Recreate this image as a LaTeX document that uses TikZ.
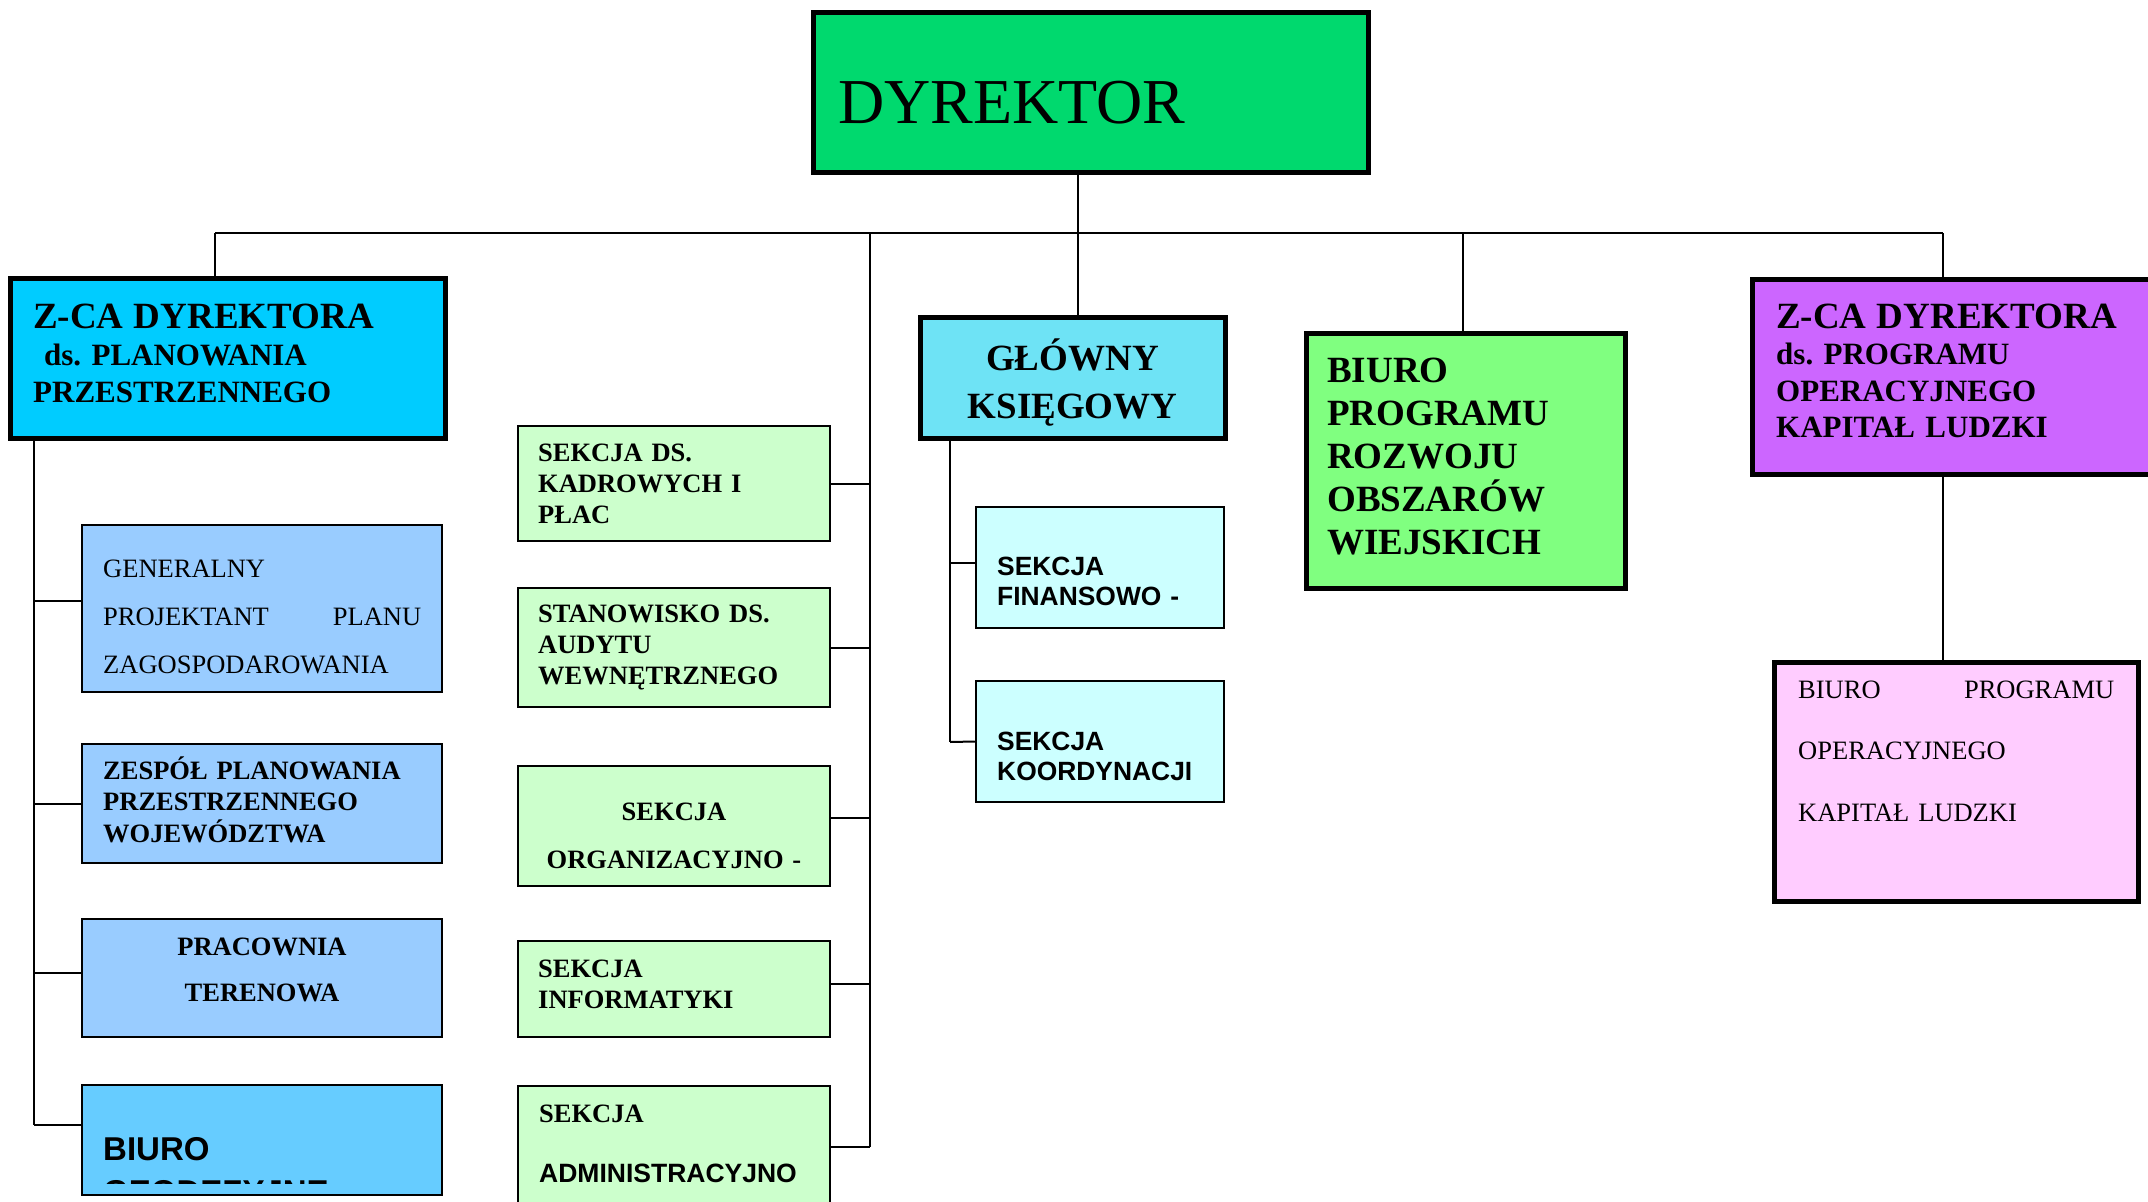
\documentclass[tikz,border=0pt]{standalone}
\usepackage{fontspec}
\setmainfont{Liberation Serif}
\newfontfamily\arialfont{Liberation Sans}
\usepackage{tikz}
\frenchspacing
\definecolor{dyrgreen}{RGB}{0,217,110}
\definecolor{zcablue}{RGB}{0,204,255}
\definecolor{planblue}{RGB}{153,204,255}
\definecolor{geoblue}{RGB}{102,204,255}
\definecolor{sekgreen}{RGB}{204,255,204}
\definecolor{ksiegcyan}{RGB}{110,227,245}
\definecolor{fincyan}{RGB}{204,255,255}
\definecolor{prowgreen}{RGB}{128,255,128}
\definecolor{zcaviolet}{RGB}{204,102,255}
\definecolor{kapitalpink}{RGB}{255,204,255}
\tikzstyle{thickbox}=[draw,line width=5pt,inner sep=0pt]
\tikzstyle{thinbox}=[draw,line width=2.5pt,inner sep=0pt]
\tikzstyle{txt}=[inner sep=0pt,align=left,anchor=base west]
\tikzstyle{link}=[line width=2pt]

\begin{document}
\begin{tikzpicture}[x=1pt,y=-1pt]
\useasboundingbox (0,0) rectangle (2148,1202);

% boxes
\node[thickbox, fill=dyrgreen, minimum width=555pt, minimum height=160pt] (dyr) at (1090.5,92) {};
\node[thickbox, fill=zcablue, minimum width=435pt, minimum height=160pt] (zcaL) at (227.5,358) {};
\node[thinbox, fill=planblue, minimum width=360pt, minimum height=167pt] (gen) at (262,608.5) {};
\node[thinbox, fill=planblue, minimum width=360pt, minimum height=119pt] (zesp) at (262,803.5) {};
\node[thinbox, fill=planblue, minimum width=360pt, minimum height=118pt] (prac) at (262,978) {};
\node[thinbox, fill=geoblue, minimum width=360pt, minimum height=110pt] (geo) at (262,1140) {};
\node[thinbox, fill=sekgreen, minimum width=312pt, minimum height=115pt] (kad) at (674,483.5) {};
\node[thinbox, fill=sekgreen, minimum width=312pt, minimum height=119pt] (aud) at (674,647.5) {};
\node[thinbox, fill=sekgreen, minimum width=312pt, minimum height=120pt] (org) at (674,826) {};
\node[thinbox, fill=sekgreen, minimum width=312pt, minimum height=96pt] (inf) at (674,989) {};
\node[thinbox, fill=sekgreen, minimum width=312pt, minimum height=122pt] (adm) at (674,1147) {};
\node[thickbox, fill=ksiegcyan, minimum width=305pt, minimum height=121pt] (glow) at (1072.5,377.5) {};
\node[thinbox, fill=fincyan, minimum width=248pt, minimum height=121pt] (fin) at (1100,567.5) {};
\node[thinbox, fill=fincyan, minimum width=248pt, minimum height=121pt] (koo) at (1100,741.5) {};
\node[thickbox, fill=prowgreen, minimum width=319pt, minimum height=255pt] (prow) at (1465.5,460.5) {};
\node[thickbox, fill=zcaviolet, minimum width=418pt, minimum height=195pt] (zcaR) at (1961,376.5) {};
\node[thickbox, fill=kapitalpink, minimum width=364pt, minimum height=239pt] (bpkl) at (1956,781.5) {};

% texts
\node[txt, font=\fontsize{64}{70}\selectfont] (dyrt) at (838,123) {DYREKTOR};
\node[txt, text width=405pt, font=\bfseries\fontsize{31}{37}\selectfont] (zcaLt) at (33,328)
  {{\fontsize{37}{37}\selectfont Z-CA DYREKTORA}\\\hspace*{11pt}ds. PLANOWANIA\\PRZESTRZENNEGO};
\node[txt, text width=318pt, font=\fontsize{26.5}{48}\selectfont] (gent) at (103,577)
  {GENERALNY\\PROJEKTANT\hfill PLANU\\ZAGOSPODAROWANIA};
\node[txt, text width=330pt, font=\bfseries\fontsize{26.5}{31.5}\selectfont] (zespt) at (103,779)
  {ZESPÓŁ PLANOWANIA\\PRZESTRZENNEGO\\WOJEWÓDZTWA};
\node[txt, anchor=base, align=center, text width=340pt, font=\bfseries\fontsize{26.5}{45.5}\selectfont] (pract) at (262,955.5)
  {PRACOWNIA\\TERENOWA};
\begin{scope}
\clip (82,1085) rectangle (442,1183);
\node[txt, text width=330pt, font=\arialfont\bfseries\fontsize{33}{43}\selectfont] (geot) at (103,1160)
  {BIURO\\GEODEZYJNE};
\end{scope}

\node[txt, text width=280pt, font=\bfseries\fontsize{26.5}{31}\selectfont] (kadt) at (538,461)
  {SEKCJA DS.\\KADROWYCH I\\PŁAC};
\node[txt, text width=280pt, font=\bfseries\fontsize{26.5}{31}\selectfont] (audt) at (538,622.5)
  {STANOWISKO DS.\\AUDYTU\\WEWNĘTRZNEGO};
\node[txt, anchor=base, align=center, text width=300pt, font=\bfseries\fontsize{26.5}{48}\selectfont] (orgt) at (674,820)
  {SEKCJA\\ORGANIZACYJNO -};
\node[txt, text width=280pt, font=\bfseries\fontsize{26.5}{31.5}\selectfont] (inft) at (538,977)
  {SEKCJA\\INFORMATYKI};
\node[txt, text width=280pt, font=\bfseries\fontsize{26.5}{60}\selectfont] (admt) at (539,1122)
  {SEKCJA\\{\arialfont\fontsize{26.5}{60}\selectfont ADMINISTRACYJNO}};

\node[txt, anchor=base, align=center, text width=290pt, font=\bfseries\fontsize{37}{48}\selectfont] (glowt) at (1072.5,370)
  {GŁÓWNY\\KSIĘGOWY};
\node[txt, text width=220pt, font=\arialfont\bfseries\fontsize{26.4}{30}\selectfont] (fint) at (997,575)
  {SEKCJA\\FINANSOWO -};
\node[txt, text width=220pt, font=\arialfont\bfseries\fontsize{26.4}{30}\selectfont] (koot) at (997,750)
  {SEKCJA\\KOORDYNACJI};
\node[txt, text width=290pt, font=\bfseries\fontsize{37}{43}\selectfont] (prowt) at (1327,382)
  {BIURO\\PROGRAMU\\ROZWOJU\\OBSZARÓW\\WIEJSKICH};
\node[txt, text width=360pt, font=\bfseries\fontsize{31}{36.5}\selectfont] (zcaRt) at (1776,328)
  {{\fontsize{37}{37}\selectfont Z-CA DYREKTORA}\\ds. PROGRAMU\\OPERACYJNEGO\\KAPITAŁ LUDZKI};
\node[txt, text width=316pt, font=\fontsize{26.5}{61.5}\selectfont] (bpklt) at (1798,698)
  {BIURO\hfill PROGRAMU\\OPERACYJNEGO\\KAPITAŁ LUDZKI};

% connectors
\coordinate (busL) at (215,233);
\coordinate (busR) at (1943,233);
\coordinate (dyrdrop) at (1078,233);
\coordinate (middrop) at (870,233);
\coordinate (prowdrop) at (1463,233);
\coordinate (midend) at (870,1147);
\coordinate (lspine) at (34,1125);
\coordinate (gspine) at (950,742);

\draw[link] (busL) -- (busR);
\draw[link] (dyr.south -| dyrdrop) -- (glow.north -| dyrdrop);
\draw[link] (busL) -- (busL |- zcaL.north);
\draw[link] (prowdrop) -- (prowdrop |- prow.north);
\draw[link] (busR) -- (busR |- zcaR.north);
\draw[link] (zcaR.south -| busR) -- (bpkl.north -| busR);

\draw[link] (middrop) -- (midend);
\draw[link] (kad.east) -- (kad.east -| middrop);
\draw[link] (aud.east) -- (aud.east -| middrop);
\draw[link] ([yshift=8pt]org.east) -- ([yshift=8pt]org.east -| middrop);
\draw[link] ([yshift=5pt]inf.east) -- ([yshift=5pt]inf.east -| middrop);
\draw[link] (adm.east) -- (midend);

\draw[link] (zcaL.south -| lspine) -- (lspine);
\draw[link] ([yshift=7.5pt]gen.west) -- ([yshift=7.5pt]gen.west -| lspine);
\draw[link] (zesp.west) -- (zesp.west -| lspine);
\draw[link] ([yshift=5pt]prac.west) -- ([yshift=5pt]prac.west -| lspine);
\draw[link] ([yshift=15pt]geo.west) -- (lspine);

\draw[link] (glow.south -| gspine) -- (gspine);
\draw[link] ([yshift=4.5pt]fin.west) -- ([yshift=4.5pt]fin.west -| gspine);
\draw[link] (koo.west) -- (gspine);

\end{tikzpicture}
\end{document}
